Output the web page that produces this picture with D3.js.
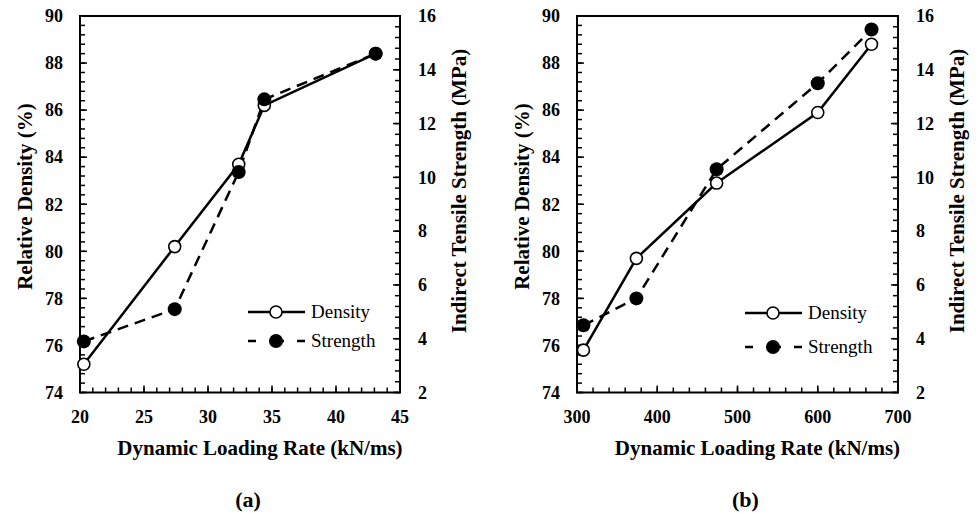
<!DOCTYPE html>
<html><head><meta charset="utf-8">
<script src="https://cdn.jsdelivr.net/npm/d3@7"></script>
<style>body{margin:0;background:#fff}svg{display:block}</style>
</head><body>
<svg id="c" width="978" height="513"></svg>
<script>
// ---- data ----
const rateA = [20.3, 27.4, 32.4, 34.4, 43.1];
const densityA = [75.2, 80.2, 83.7, 86.2, 88.4];
const strengthA = [3.9, 5.1, 10.2, 12.9, 14.6];
const rateB = [308, 374, 474, 600, 667];
const densityB = [75.8, 79.7, 82.9, 85.9, 88.8];
const strengthB = [4.5, 5.5, 10.3, 13.5, 15.5];
const xTicksA = [20, 25, 30, 35, 40, 45];
const xTicksB = [300, 400, 500, 600, 700];
const yLeftTicks = [74, 76, 78, 80, 82, 84, 86, 88, 90];
const yRightTicks = [2, 4, 6, 8, 10, 12, 14, 16];
const panelLabels = ["(a)", "(b)"];
const seriesNames = ["Density", "Strength"];
const xTitle = "Dynamic Loading Rate (kN/ms)";
const yLeftTitle = "Relative Density (%)";
const yRightTitle = "Indirect Tensile Strength (MPa)";

const svg = d3.select("#c");
const FONT = '"Liberation Serif"';

function txt(sel, size, bold) {
  return sel.append("text").style("font-family", FONT).style("font-size", size + "px")
    .style("font-weight", bold ? "bold" : "normal").attr("fill", "#000");
}

function panel(cfg) {
  const {left, right, top, bottom, xDomain, xTicks, xMinor, rate, dens, str, label} = cfg;
  const g = svg.append("g");
  const x = d3.scaleLinear().domain(xDomain).range([left, right]);
  const yL = d3.scaleLinear().domain([74, 90]).range([bottom, top]);
  const yR = d3.scaleLinear().domain([2, 16]).range([bottom, top]);

  // minor ticks
  const xm = d3.range(xDomain[0], xDomain[1] + 1e-9, xMinor);
  const ylm = d3.range(74, 90 + 1e-9, 0.4);
  const yrm = d3.range(2, 16 + 1e-9, 0.4);
  const tk = g.append("g").attr("stroke", "#000").attr("stroke-width", 1.5);
  xm.forEach(v => tk.append("line").attr("x1", x(v)).attr("x2", x(v)).attr("y1", bottom).attr("y2", bottom - 5));
  ylm.forEach(v => tk.append("line").attr("x1", left).attr("x2", left + 5).attr("y1", yL(v)).attr("y2", yL(v)));
  yrm.forEach(v => tk.append("line").attr("x1", right).attr("x2", right - 5).attr("y1", yR(v)).attr("y2", yR(v)));
  // major ticks
  xTicks.forEach(v => tk.append("line").attr("x1", x(v)).attr("x2", x(v)).attr("y1", bottom).attr("y2", bottom - 7));
  yLeftTicks.forEach(v => tk.append("line").attr("x1", left).attr("x2", left + 7).attr("y1", yL(v)).attr("y2", yL(v)));
  yRightTicks.forEach(v => tk.append("line").attr("x1", right).attr("x2", right - 7).attr("y1", yR(v)).attr("y2", yR(v)));

  // frame
  g.append("rect").attr("x", left).attr("y", top).attr("width", right - left).attr("height", bottom - top)
    .attr("fill", "none").attr("stroke", "#000").attr("stroke-width", 2);

  // tick labels
  xTicks.forEach(v => txt(g, 18, true).attr("x", x(v)).attr("y", 423).attr("text-anchor", "middle").text(v));
  yLeftTicks.forEach(v => txt(g, 18, true).attr("x", left - 17).attr("y", yL(v)).attr("dy", "0.35em").attr("text-anchor", "end").text(v));
  yRightTicks.forEach(v => txt(g, 18, true).attr("x", right + 18).attr("y", yR(v)).attr("dy", "0.35em").attr("text-anchor", "start").text(v));

  // titles
  txt(g, 21, true).attr("x", (left + right) / 2 + 20).attr("y", 455).attr("text-anchor", "middle").text(xTitle);
  txt(g, 21, true).attr("transform", `translate(${left - 55},196.5) rotate(-90)`).attr("dy", "0.35em").attr("text-anchor", "middle").text(yLeftTitle);
  txt(g, 21, true).attr("transform", `translate(${right + 59},191) rotate(-90)`).attr("dy", "0.35em").attr("text-anchor", "middle").text(yRightTitle);
  txt(g, 22, true).attr("x", (left + right) / 2 + 8).attr("y", 507).attr("text-anchor", "middle").text(label);

  // lines
  const dPts = rate.map((r, i) => [x(r), yL(dens[i])]);
  const sPts = rate.map((r, i) => [x(r), yR(str[i])]);
  const line = d3.line();
  g.append("path").attr("d", line(dPts)).attr("fill", "none").attr("stroke", "#000").attr("stroke-width", 2.5);
  g.append("path").attr("d", line(sPts)).attr("fill", "none").attr("stroke", "#000").attr("stroke-width", 2.5)
    .attr("stroke-dasharray", "11,7");
  dPts.forEach(p => g.append("circle").attr("cx", p[0]).attr("cy", p[1]).attr("r", 6)
    .attr("fill", "#fff").attr("stroke", "#000").attr("stroke-width", 1.6));
  sPts.forEach(p => g.append("circle").attr("cx", p[0]).attr("cy", p[1]).attr("r", 7).attr("fill", "#000"));

  // legend
  const lx = left + 168, ly1 = cfg.leg[0], ly2 = cfg.leg[1];
  const lg = g.append("g");
  lg.append("line").attr("x1", lx).attr("x2", lx + 57).attr("y1", ly1).attr("y2", ly1).attr("stroke", "#000").attr("stroke-width", 2.5);
  lg.append("circle").attr("cx", lx + 28).attr("cy", ly1).attr("r", 6).attr("fill", "#fff").attr("stroke", "#000").attr("stroke-width", 1.6);
  lg.append("line").attr("x1", lx).attr("x2", lx + 57).attr("y1", ly2).attr("y2", ly2).attr("stroke", "#000").attr("stroke-width", 2.5)
    .attr("stroke-dasharray", "8,13,15,13,8");
  lg.append("circle").attr("cx", lx + 28).attr("cy", ly2).attr("r", 7).attr("fill", "#000");
  txt(lg, 19, false).attr("x", lx + 63).attr("y", ly1).attr("dy", "0.33em").text(seriesNames[0]);
  txt(lg, 19, false).attr("x", lx + 63).attr("y", ly2).attr("dy", "0.33em").text(seriesNames[1]);
}

panel({left: 80, right: 400, top: 16, bottom: 392.5, xDomain: [20, 45], xTicks: xTicksA, xMinor: 1,
  rate: rateA, dens: densityA, str: strengthA, label: panelLabels[0], leg: [312, 341]});
panel({left: 577, right: 898, top: 16, bottom: 392.5, xDomain: [300, 700], xTicks: xTicksB, xMinor: 20,
  rate: rateB, dens: densityB, str: strengthB, label: panelLabels[1], leg: [313, 347]});
</script>
</body></html>
